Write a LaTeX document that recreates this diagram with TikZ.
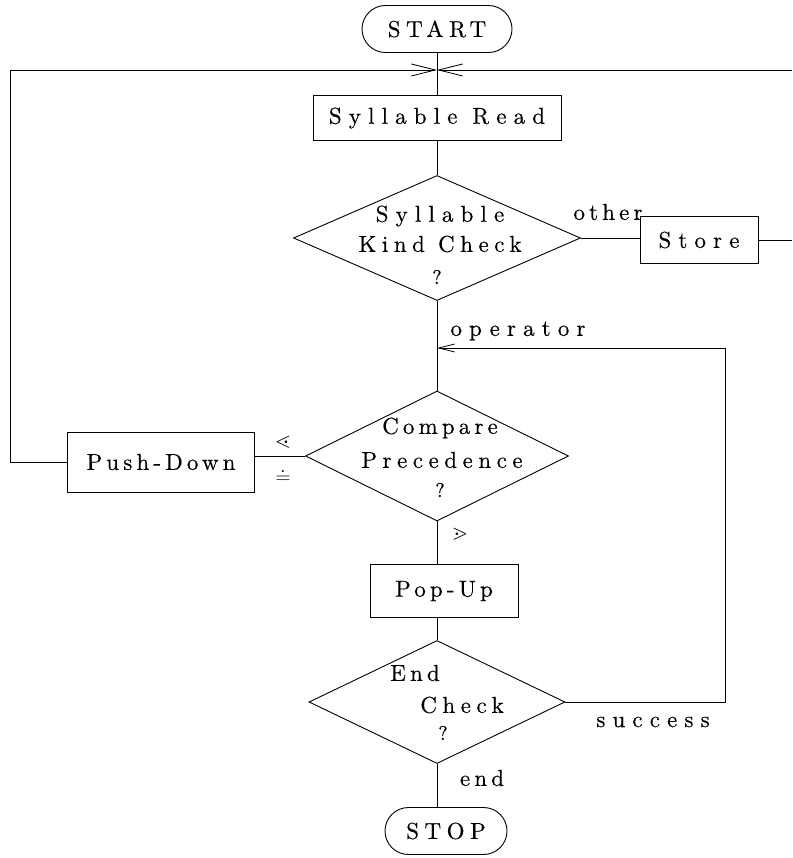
\documentclass[tikz,border=0pt]{standalone}
\usepackage{amssymb}
\usepackage{fontspec}
\setmainfont{lmroman10-regular.otf}[FakeBold=0.4]
\newfontfamily\spcA{lmroman10-regular.otf}[LetterSpace=18,FakeBold=0.4]
\newfontfamily\spcB{lmroman10-regular.otf}[LetterSpace=24,FakeBold=0.4]
\newfontfamily\spcC{lmroman10-regular.otf}[LetterSpace=31,FakeBold=0.4]
\usetikzlibrary{shapes.geometric,shapes.misc,arrows.meta}
\begin{document}
\begin{tikzpicture}[x=1pt,y=-1pt,line width=0.9pt,
  ink/.style={text=black},
  lblA/.style={ink,inner sep=0pt,font=\spcA\fontsize{23}{27}\selectfont},
  lblB/.style={ink,inner sep=0pt,font=\spcB\fontsize{23}{27}\selectfont},
  lblC/.style={ink,inner sep=0pt,font=\spcC\fontsize{23}{27}\selectfont},
  qm/.style={ink,inner sep=0pt,font=\fontsize{20}{22}\selectfont},
  sym/.style={ink,inner sep=0pt,font=\fontsize{21}{23}\selectfont},
  box/.style={draw,rectangle,inner sep=0pt},
  pill/.style={draw,rounded rectangle,inner sep=0pt},
  dia/.style={draw,diamond,inner sep=0pt},
  bigarrow/.style={-{Straight Barb[length=24pt,width=12pt,line width=0.8pt]}},
  smallarrow/.style={-{Straight Barb[length=16pt,width=8pt,line width=0.8pt]}}]
\useasboundingbox (0,0) rectangle (792,858);

% nodes
\node[pill,lblB,minimum width=150,minimum height=47] (start) at (437,29) {START};
\node[box,lblC,minimum width=248,minimum height=45] (read) at (437,118) {Syllable Read};
\node[dia,minimum width=287,minimum height=125] (kind) at (437,238) {};
\node[lblC] (kindA) at (440,216) {Syllable};
\node[lblB] (kindB) at (440,244) {Kind Check};
\node[qm] (kindQ) at (437,277) {?};
\node[box,lblC,minimum width=118,minimum height=47] (store) at (699,240) {Store};

\node[dia,minimum width=263,minimum height=130] (compare) at (437,456) {};
\node[lblA] (compA) at (440,428) {Compare};
\node[lblB] (compB) at (442,460) {Precedence};
\node[qm] (compQ) at (440,490) {?};
\node[box,lblA,minimum width=187,minimum height=60] (push) at (161,462) {Push-Down};

\node[box,lblA,minimum width=148,minimum height=53] (pop) at (444,591) {Pop-Up};

\node[dia,minimum width=256,minimum height=123] (endc) at (437,702) {};
\node[lblA] (endA) at (415,673) {End};
\node[lblB] (endB) at (462,705) {Check};
\node[qm] (endQ) at (443,733) {?};

\node[pill,lblB,minimum width=122,minimum height=47] (stop) at (446,831) {STOP};

% labels
\node[lblA] (lother) at (608,212) {other};
\node[lblC] (loper) at (518,331) {operator};
\node[sym,align=center,font=\fontsize{21}{36}\selectfont] (lrel) at (283,460) {$\lessdot$\\$\doteq$};
\node[sym] (lgt) at (460,534) {$\gtrdot$};
\node[lblC] (lsucc) at (653,722) {success};
\node[lblA] (lend) at (482,778) {end};

% coordinates
\coordinate (j) at (437,70);
\coordinate (tl) at (10,70);
\coordinate (tr) at (792,70);
\coordinate (sc) at (725,348);

% connectors
\draw (start.south) -- (read.north);
\draw (read.south) -- (kind.north);
\draw (kind.east) -- (kind.east -| store.west);
\draw (store.east) -- (store.east -| tr);
\draw[bigarrow] (tr) -- (j);
\draw[bigarrow] (push.west) -| (tl) -- (j);
\draw (kind.south) -- (compare.north);
\draw[smallarrow] (endc.east) -| (sc) -- (sc -| compare.north);
\draw (compare.west) -- (compare.west -| push.east);
\draw (compare.south) -- (compare.south |- pop.north);
\draw (pop.south -| endc.north) -- (endc.north);
\draw (endc.south) -- (endc.south |- stop.north);
\end{tikzpicture}
\end{document}
